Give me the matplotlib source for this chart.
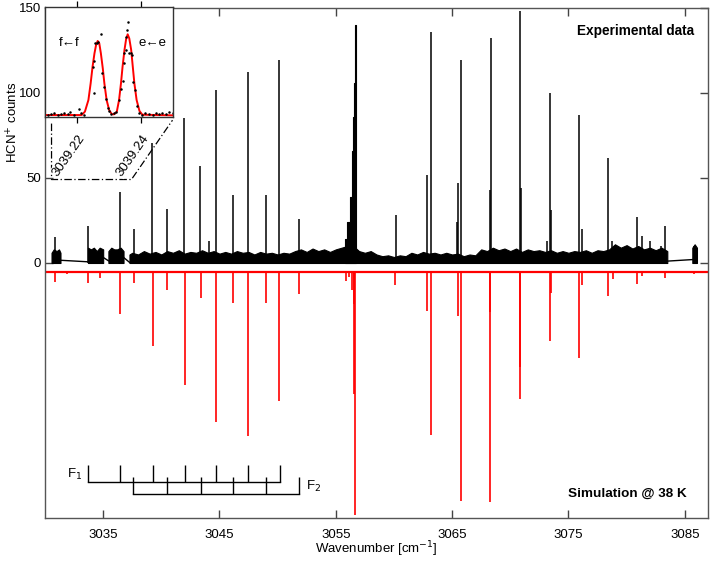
import numpy as np
import matplotlib.pyplot as plt

plt.rcParams.update({
    "font.family": ["Liberation Sans", "DejaVu Sans"],
    "font.size": 9,
    "xtick.labelsize": 9.5,
    "ytick.labelsize": 9.5,
    "axes.labelsize": 9.5,
})

# -----------------------------
# experimental spectrum (black)
# -----------------------------
exp_peak_wn = [3030.90, 3033.71, 3036.43, 3037.63, 3039.24, 3040.50, 3041.99, 3043.36,
               3044.08, 3044.71, 3046.20, 3047.43, 3049.03, 3050.09, 3051.81, 3060.15,
               3062.84, 3063.21, 3065.42, 3065.51, 3065.79, 3068.22, 3068.34, 3070.86,
               3070.95, 3073.16, 3073.42, 3073.50, 3075.91, 3076.17, 3078.37, 3078.74,
               3080.89, 3081.32, 3082.03, 3082.98, 3083.30, 3085.82]
exp_peak_h = [15, 22, 41.5, 20, 70.5, 32, 85, 57,
              13, 101.5, 40, 112.5, 40, 119.5, 26, 28,
              52, 136, 24, 47, 119.5, 43, 132.5, 148.5,
              44, 13, 100, 31, 87, 20, 62, 13,
              27, 16, 13, 10, 22, 10]

# band around 3056 (unresolved cluster)
cluster_wn = [3055.80, 3055.95, 3056.22, 3056.38, 3056.47, 3056.58, 3056.66, 3056.74]
cluster_h = [14, 24, 39, 66, 86, 106, 140, 12]

# noise floor, upper envelope of each recorded segment
noise_a_wn = [3030.56, 3030.75, 3031.00, 3031.20, 3031.33]
noise_a_h = [6, 8, 7, 8, 6]
noise_b_wn = [3033.69, 3033.95, 3034.20, 3034.45, 3034.70, 3035.00]
noise_b_h = [9, 8, 9, 7, 9, 8]
noise_c_wn = [3035.45, 3035.70, 3035.95, 3036.20, 3036.50, 3036.75]
noise_c_h = [7, 9, 8, 8, 9, 7]
noise_d_wn = [3037.26] + list(np.arange(3037.5, 3083.51, 0.5))
noise_d_h = [5, 6,
             5, 7, 5.5, 6.5, 5, 7, 6, 7.5, 5.5, 6.5,      # 3038-3042
             6, 7.5, 6, 7, 5.5, 6.5, 5.5, 7, 6, 6.5,      # 3043-3047
             5, 6.5, 5.5, 6, 5, 6, 5.5, 7, 8, 6.5,        # 3048-3052
             8.5, 7, 8, 6.5, 8, 9, 10, 10, 7, 6,          # 3053-3057
             7, 5, 4, 4.5, 3.5, 4.5, 4, 6, 5, 6.5,        # 3058-3062
             5.5, 6, 5, 6, 5, 5.5, 4, 5, 4.5, 8,          # 3063-3067
             7, 9, 7.5, 8.5, 7, 8.5, 6.5, 8, 7, 7.5,      # 3068-3072
             6.5, 7.5, 6, 7, 6, 7, 6.5, 7.5, 6, 7.5,      # 3073-3077
             7, 8, 11, 9, 10.5, 8.5, 10, 8, 9, 7.5,       # 3078-3082
             9, 7]                                        # 3083
noise_e_wn = [3085.65, 3085.85, 3086.05]
noise_e_h = [9, 11, 9]

# straight joins between the recorded segments
gap_wn = [(3031.33, 3033.69), (3035.00, 3035.45), (3036.75, 3037.26), (3083.50, 3085.65)]
gap_h = [(1.6, 0.7), (3.3, 1.3), (3.3, 0.4), (1.1, 2.0)]

# -----------------------------
# simulation @ 38 K (red, drawn downwards)
# -----------------------------
sim_base = -5.2
sim_wn = [3030.90, 3031.85, 3033.71, 3034.77, 3036.46, 3037.66, 3039.27, 3040.53,
          3042.01, 3043.39, 3044.74, 3046.20, 3047.43, 3049.03, 3050.13, 3051.84,
          3055.91, 3056.10, 3056.40, 3056.54, 3056.60, 3056.68, 3060.12, 3062.84,
          3063.19, 3065.53, 3065.76, 3068.26, 3068.29, 3070.82, 3070.86, 3073.38,
          3073.50, 3075.87, 3076.16, 3078.40, 3078.80, 3080.89, 3081.32, 3083.32,
          3083.90, 3085.76, 3086.40]
sim_h = [-11.3, -6.4, -12, -9, -30.3, -12, -49, -16,
         -72, -20.5, -93.6, -23.4, -101.9, -23.4, -80.9, -18.1,
         -10.7, -8.3, -15.6, -24.4, -77, -148, -13, -28.3,
         -101, -30.9, -140, -29, -140.7, -61, -80, -45.6,
         -17.5, -56, -13, -19.7, -9.7, -12.6, -7.4, -8.7,
         -5.8, -6.4, -5.6]

# rotational branches
f1_wn = [3033.71, 3036.46, 3039.27, 3042.01, 3044.74, 3047.43, 3050.18]
f2_wn = [3037.58, 3040.53, 3043.39, 3046.20, 3049.03, 3051.84]

# -----------------------------
# inset: resolved doublet
# -----------------------------
inset_dot_wn = [3039.2107, 3039.2118, 3039.2128, 3039.2139, 3039.2149, 3039.2160, 3039.2170,
                3039.2177, 3039.2191, 3039.2204, 3039.2212, 3039.2222, 3039.2253, 3039.2249,
                3039.2252, 3039.2256, 3039.2261, 3039.2266, 3039.2275, 3039.2279, 3039.2283,
                3039.2290, 3039.2296, 3039.2301, 3039.2306, 3039.2314, 3039.2321, 3039.2331,
                3039.2338, 3039.2342, 3039.2346, 3039.2348, 3039.2352, 3039.2354, 3039.2357,
                3039.2359, 3039.2361, 3039.2367, 3039.2373, 3039.2375, 3039.2380, 3039.2386,
                3039.2392, 3039.2403, 3039.2413, 3039.2426, 3039.2436, 3039.2447, 3039.2457,
                3039.2467, 3039.2478, 3039.2488, 3039.2499]
inset_dot_y = [1.8, 2.7, 3.3, 2.1, 3.0, 4.0, 2.7,
               4.6, 2.1, 7.0, 3.3, 1.8, 22.2, 45.9,
               51.1, 67.2, 67.8, 68.7, 75.4, 39.8, 27.1,
               16.0, 7.9, 5.5, 2.7, 3.3, 4.9, 15.5,
               25.2, 33.1, 48.9, 58.1, 61.1, 73.3, 79.3,
               86.9, 58.1, 58.1, 56.5, 32.2, 24.6, 10.0,
               4.0, 1.8, 3.3, 2.7, 1.8, 3.3, 2.4,
               4.0, 2.7, 4.9, 4.0]
inset_fit_wn = [3039.2099, 3039.2214, 3039.2224, 3039.2235, 3039.2242, 3039.2248, 3039.2254,
                3039.2259, 3039.2264, 3039.2269, 3039.2274, 3039.2280, 3039.2285, 3039.2292,
                3039.2300, 3039.2308, 3039.2315, 3039.2324, 3039.2331, 3039.2337, 3039.2342,
                3039.2348, 3039.2353, 3039.2358, 3039.2363, 3039.2369, 3039.2374, 3039.2379,
                3039.2386, 3039.2395, 3039.2404, 3039.2501]
inset_fit_y = [1.8, 1.8, 4.9, 15.5, 30.7, 45.9, 58.1,
               65.7, 69.3, 67.2, 58.1, 44.4, 30.7, 15.5,
               6.4, 2.7, 2.4, 4.9, 15.5, 30.7, 45.9,
               61.1, 70.8, 75.4, 71.7, 61.1, 45.9, 30.7,
               15.5, 5.5, 2.1, 1.5]

# -----------------------------
# figure
# -----------------------------
fig = plt.figure(figsize=(7.1, 5.62), dpi=100)
ax = fig.add_axes([0.0634, 0.0783, 0.9338, 0.9075])
ax.set_xlim(3030, 3087)
ax.set_ylim(-150, 150)

# dash-dot guide from the inset
ax.plot([3030.56, 3030.56, 3037.43, 3040.96], [82, 49.1, 49.1, 84],
        color="black", lw=0.9, linestyle=(0, (6, 2, 1, 2)), zorder=1)

# experimental trace
for xs, hs in [(noise_a_wn, noise_a_h), (noise_b_wn, noise_b_h), (noise_c_wn, noise_c_h),
               (noise_d_wn, noise_d_h), (noise_e_wn, noise_e_h)]:
    ax.fill_between(xs, 0, hs, color="black", lw=0.8, zorder=2)
for (x0, x1), (h0, h1) in zip(gap_wn, gap_h):
    ax.plot([x0, x1], [h0, h1], color="black", lw=1.0, zorder=2)
ax.fill_between(cluster_wn, 0, cluster_h, step="post", color="black", lw=0.8, zorder=2)
ax.vlines(exp_peak_wn, 0, exp_peak_h, color="black", lw=1.1, zorder=2)

# simulation
ax.axhline(sim_base, color="red", lw=1.6, zorder=2)
ax.vlines(sim_wn, sim_base, sim_h, color="red", lw=1.2, zorder=2)

# F1 / F2 combs
y1, t1 = -128.9, -118.9
ax.plot([f1_wn[0], f1_wn[-1]], [y1, y1], color="black", lw=1.0)
ax.vlines(f1_wn, y1, t1, color="black", lw=1.0)
y2, t2 = -135.8, -125.8
ax.plot([f2_wn[0], f2_wn[-1]], [y2, y2], color="black", lw=1.0)
ax.vlines(f2_wn, y2, t2, color="black", lw=1.0)
ax.text(f1_wn[0] - 0.5, -124.5, "F$_1$", ha="right", va="center", fontsize=9.5)
ax.text(f2_wn[-1] + 0.6, -131.5, "F$_2$", ha="left", va="center", fontsize=9.5)

ax.text(0.979, 0.955, "Experimental data", transform=ax.transAxes,
        ha="right", va="center", fontsize=9.8, fontweight="bold")
ax.text(0.968, 0.047, "Simulation @ 38 K", transform=ax.transAxes,
        ha="right", va="center", fontsize=9.7, fontweight="bold")

ax.set_xticks(np.arange(3035, 3086, 10))
ax.set_yticks([0, 50, 100, 150])
ax.tick_params(direction="in", top=True, right=True, length=5.5, width=1,
               color="#444444")
ax.tick_params(axis="x", pad=8)
ax.tick_params(axis="y", pad=3)
for s in ax.spines.values():
    s.set_color("#555555")
    s.set_linewidth(1.0)
ax.set_xlabel("Wavenumber [cm$^{-1}$]", labelpad=-1)
ax.set_ylabel("HCN$^{+}$ counts")
ax.yaxis.set_label_coords(-0.037, 0.776)

# inset
axi = fig.add_axes([0.0634, 0.7918, 0.1807, 0.1952])
axi.set_xlim(3039.2099, 3039.2501)
axi.set_ylim(0, 100)
axi.plot(inset_fit_wn, inset_fit_y, color="red", lw=1.4)
axi.plot(inset_dot_wn, inset_dot_y, "o", color="black", ms=1.8, mew=0)
axi.set_yticks([])
axi.set_xticks([3039.22, 3039.24])
axi.set_xticklabels(["3039.22", "3039.24"])
axi.tick_params(axis="x", direction="out", top=True, length=4, width=0.9, pad=7,
                labelsize=9.5)
for lbl in axi.get_xticklabels():
    lbl.set_rotation(55)
    lbl.set_rotation_mode("anchor")
    lbl.set_ha("right")
    lbl.set_va("top")
    lbl.set_bbox(dict(facecolor="white", edgecolor="none", pad=0.5))
for s in axi.spines.values():
    s.set_color("#333333")
    s.set_linewidth(1.0)
axi.text(0.19, 0.675, "f\u2190f", transform=axi.transAxes, ha="center", va="center",
         fontsize=9.5)
axi.text(0.84, 0.675, "e\u2190e", transform=axi.transAxes, ha="center", va="center",
         fontsize=9.5)

fig.savefig("out.png", dpi=100)
